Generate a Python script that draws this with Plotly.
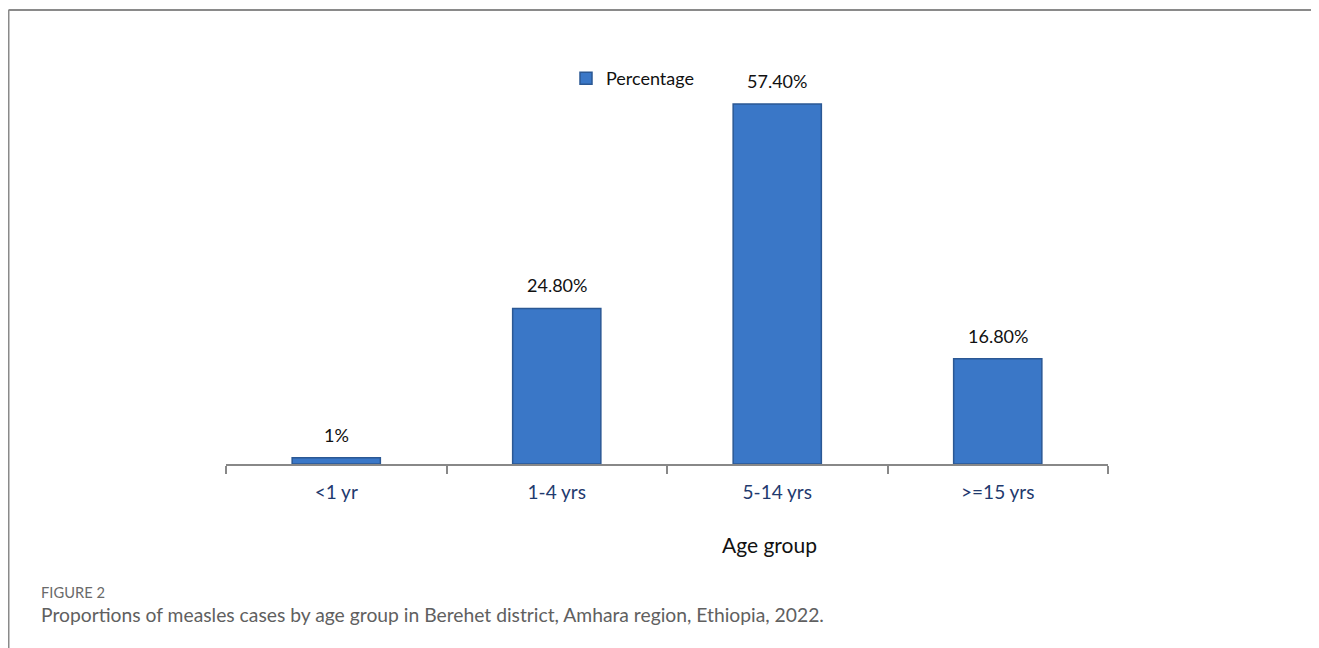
import plotly.graph_objects as go

categories = ["<1 yr", "1-4 yrs", "5-14 yrs", ">=15 yrs"]
values = [1.0, 24.8, 57.4, 16.8]
value_labels = ["1%", "24.80%", "57.40%", "16.80%"]
series_name = "Percentage"

FONT = "Lato, 'Open Sans', sans-serif"

fig = go.Figure()
fig.add_trace(go.Bar(
    x=categories, y=values, name=series_name, width=0.4,
    marker=dict(color="#3a77c7", line=dict(color="#2b5894", width=1.5)),
    showlegend=True,
))

for c, v, t in zip(categories, values, value_labels):
    fig.add_annotation(x=c, y=v, text=t, showarrow=False, yanchor="bottom",
                       yshift=10, font=dict(family=FONT, size=18, color="#111111"))

OFF = 8  # page body margin
W, H = 1319 - OFF, 648 - OFF
ml, mt = 226 - OFF, 60 - OFF
mr = W - (1108 - OFF)
mb = H - (464 - OFF)
pw, ph = W - ml - mr, H - mt - mb

def px(x):
    return (x - OFF - ml) / pw

def py(y):
    return (H - mb - (y - OFF)) / ph

# frame lines
fig.add_shape(type="line", xref="paper", yref="paper", x0=px(8.5), x1=px(1330), y0=py(10), y1=py(10),
              line=dict(color="#8a8a8a", width=2))
fig.add_shape(type="line", xref="paper", yref="paper", x0=px(8.5), x1=px(8.5), y0=py(10), y1=py(660),
              line=dict(color="#8a8a8a", width=2))

fig.add_annotation(xref="paper", yref="paper", x=px(769), y=py(544), xanchor="center", yanchor="middle",
                   text="Age group", showarrow=False, font=dict(family=FONT, size=21, color="#111111"))
fig.add_annotation(xref="paper", yref="paper", x=px(39), y=py(592), xanchor="left", yanchor="middle",
                   text="FIGURE 2", showarrow=False, font=dict(family=FONT, size=14.7, color="#6a6a6a"))
fig.add_annotation(xref="paper", yref="paper", x=px(39), y=py(614), xanchor="left", yanchor="middle",
                   text="Proportions of measles cases by age group in Berehet district, Amhara region, Ethiopia, 2022.",
                   showarrow=False, font=dict(family=FONT, size=19.3, color="#606060"))

fig.update_layout(
    width=W, height=H,
    margin=dict(l=ml, r=mr, t=mt, b=mb, autoexpand=False),
    paper_bgcolor="white", plot_bgcolor="white",
    font=dict(family=FONT),
    legend=dict(x=px(566), y=py(60), xanchor="left", yanchor="top", bgcolor="rgba(0,0,0,0)",
                font=dict(family=FONT, size=18, color="#111111"), itemwidth=30),
    xaxis=dict(showline=True, linecolor="#888888", linewidth=1.5, ticks="outside", tickson="boundaries",
               ticklen=8, tickcolor="#888888", tickwidth=1.5, range=[-0.5, 3.5], ticklabelstandoff=10,
               tickfont=dict(family=FONT, size=19, color="#1f3a6e"), showgrid=False),
    yaxis=dict(visible=False, range=[0, ph / 6.272], showgrid=False, zeroline=False),
)

fig.write_html("out.html")
